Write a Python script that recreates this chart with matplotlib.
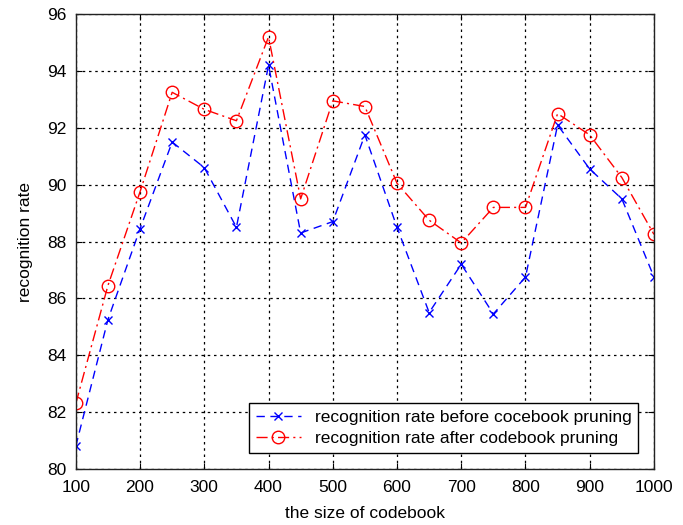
import numpy as np
import matplotlib
matplotlib.use("Agg")
import matplotlib.pyplot as plt

plt.rcParams['font.family'] = ['Liberation Sans', 'DejaVu Sans']

# codebook sizes and recognition rates (%)
codebook_size = [100, 150, 200, 250, 300, 350, 400, 450, 500, 550,
                 600, 650, 700, 750, 800, 850, 900, 950, 1000]
rate_before = [80.8, 85.25, 88.45, 91.5, 90.6, 88.5, 94.2, 88.3, 88.7, 91.75,
               88.5, 85.5, 87.2, 85.45, 86.75, 92.1, 90.55, 89.5, 86.75]
rate_after = [82.3, 86.45, 89.75, 93.25, 92.65, 92.25, 95.2, 89.5, 92.95, 92.75,
              90.05, 88.75, 87.95, 89.2, 89.2, 92.5, 91.75, 90.25, 88.25]
x_ticks = list(range(100, 1001, 100))
y_ticks = list(range(80, 97, 2))

fig = plt.figure(figsize=(6.83, 5.25), dpi=100)
ax = fig.add_axes([0.111, 0.107, 0.8465, 0.866])

ax.plot(codebook_size, rate_before, color='blue', linestyle=(0, (6, 4)),
        marker='x', markersize=6, linewidth=1.0,
        label='recognition rate before cocebook pruning')
ax.plot(codebook_size, rate_after, color='red', linestyle=(0, (8, 3, 1.5, 3)),
        marker='o', markersize=9, markerfacecolor='none', linewidth=1.0,
        label='recognition rate after codebook pruning')

ax.set_xlim(100, 1000)
ax.set_ylim(80, 96)
ax.set_xticks(x_ticks)
ax.set_yticks(y_ticks)
ax.tick_params(direction='in', labelsize=12.5, length=4, top=True, right=True)
ax.tick_params(axis='x', pad=8)
ax.tick_params(axis='y', pad=7)
ax.grid(True, color='black', linestyle=(0, (2, 3)), linewidth=0.9)
for s in ax.spines.values():
    s.set_linewidth(1.0)
    s.set_color('#222222')

ax.set_xlabel('the size of codebook', fontsize=12.5, labelpad=8)
ax.set_ylabel('recognition rate', fontsize=12.5, labelpad=10)

leg = ax.legend(loc='lower right', fontsize=12.5, frameon=True, fancybox=False,
                edgecolor='black', framealpha=1, handlelength=2.6,
                borderaxespad=0.9, borderpad=0.4, labelspacing=0.35)
leg.get_frame().set_linewidth(1.0)

fig.savefig('out.png', dpi=100)
